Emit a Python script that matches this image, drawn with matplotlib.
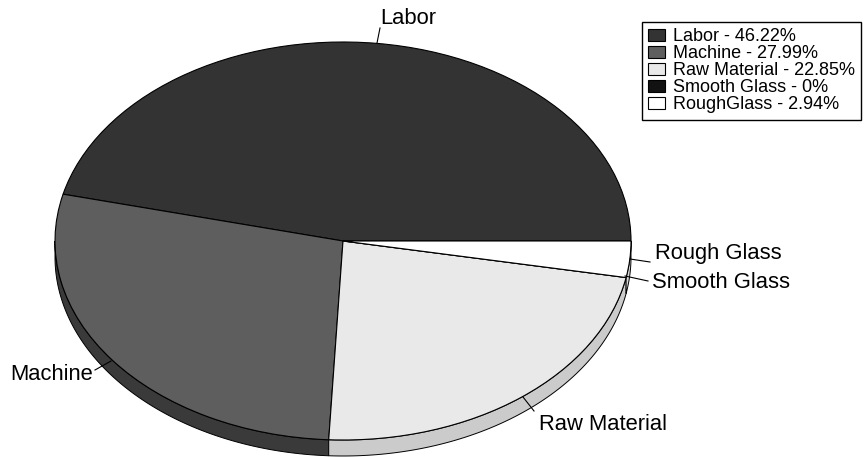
import numpy as np
import matplotlib
matplotlib.use("Agg")
import matplotlib.pyplot as plt
from matplotlib.patches import Polygon

plt.rcParams['font.family'] = ['Liberation Sans', 'DejaVu Sans']

# ---- data ----
slice_labels = ["Labor", "Machine", "Raw Material", "Smooth Glass", "Rough Glass"]
legend_names = ["Labor", "Machine", "Raw Material", "Smooth Glass", "RoughGlass"]
values = [46.22, 27.99, 22.85, 0, 2.94]

# ---- styles ----
top_colors = ["#333333", "#5e5e5e", "#e9e9e9", "#121212", "#ffffff"]
side_colors = ["#1f1f1f", "#3a3a3a", "#cbcbcb", "#0a0a0a", "#d6d6d6"]

W, H = 864, 457
fig = plt.figure(figsize=(W / 100, H / 100), dpi=100)

# pie geometry in pixels
cx, cy, rx, ry, depth = 343, 241, 288, 199, 16

ax = fig.add_axes([0, 0, 1, 1])
wedges, _ = ax.pie(values, colors=top_colors, startangle=0, counterclock=True,
                   wedgeprops=dict(edgecolor="black", linewidth=0.8))
for w in wedges:
    w.set_zorder(3)
ax.set_aspect("auto")
ax.set_xlim((0 - cx) / rx, (W - cx) / rx)
ax.set_ylim((cy - H) / ry, cy / ry)
ax.axis("off")

# side (depth) of the 3D pie
d = depth / ry
total = sum(values)
start = 0.0
for v, sc in zip(values, side_colors):
    a0 = start
    a1 = start + 360.0 * v / total
    start = a1
    lo, hi = max(a0, 180.0), min(a1, 360.0)
    if hi <= lo:
        continue
    th = np.radians(np.linspace(lo, hi, 120))
    top = np.column_stack([np.cos(th), np.sin(th)])
    bot = np.column_stack([np.cos(th), np.sin(th) - d])[::-1]
    poly = Polygon(np.vstack([top, bot]), closed=True, facecolor=sc,
                   edgecolor="black", linewidth=0.7, zorder=2)
    ax.add_patch(poly)

# overlay axes in pixel coordinates for labels
ov = fig.add_axes([0, 0, 1, 1], zorder=5)
ov.set_xlim(0, W)
ov.set_ylim(H, 0)
ov.axis("off")
ov.patch.set_alpha(0)

label_pos = {
    "Labor": ((380, 18), [(377, 43), (380, 28)]),
    "Machine": ((10, 375), [(95, 370), (111, 361)]),
    "Raw Material": ((539, 424), [(523, 397), (534, 411)]),
    "Rough Glass": ((655, 253), [(630, 259), (650, 262)]),
    "Smooth Glass": ((652, 283), [(625, 276), (648, 281)]),
}
for name in slice_labels:
    (tx, ty), line = label_pos[name]
    ov.text(tx, ty, name, fontsize=15.8, ha="left", va="center", color="black")
    ov.plot([line[0][0], line[1][0]], [line[0][1], line[1][1]],
            color="black", linewidth=0.8)

# legend
leg_labels = [f"{n} - {v:g}%" for n, v in zip(legend_names, values)]
leg = fig.legend(wedges, leg_labels, loc="upper left",
                 bbox_to_anchor=(642 / W, 1 - 22 / H), borderaxespad=0,
                 fontsize=13, frameon=True, fancybox=False, shadow=False,
                 handlelength=0.9, handleheight=0.6, handletextpad=0.45,
                 labelspacing=0.0, borderpad=0.35)
leg.get_frame().set_edgecolor("black")
leg.get_frame().set_linewidth(1.0)
leg.get_frame().set_alpha(1)
leg.set_zorder(10)

fig.savefig("out.png", dpi=100, facecolor="white")
